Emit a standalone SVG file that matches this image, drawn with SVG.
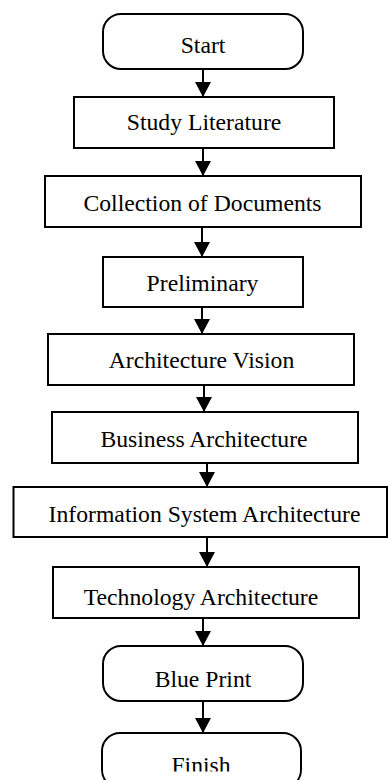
<svg xmlns="http://www.w3.org/2000/svg" width="388" height="780" viewBox="0 0 388 780">
  <defs>
    <marker id="arrow" markerUnits="userSpaceOnUse" markerWidth="16" markerHeight="17" refX="15" refY="8" orient="auto">
      <path d="M0,0 L15,8 L0,16 Z" fill="#000"/>
    </marker>
    <clipPath id="finishClip">
      <rect x="0" y="700" width="388" height="71.5"/>
    </clipPath>
    <style>
      .box { fill: #fff; stroke: #000; stroke-width: 2; }
      .lbl { font-family: 'Liberation Serif', 'DejaVu Serif', serif; font-size: 23.7px; fill: #000; text-anchor: middle; }
      .conn { stroke: #000; stroke-width: 2; fill: none; marker-end: url(#arrow); }
    </style>
  </defs>
  <rect width="388" height="780" fill="#fff"/>
  <g id="connectors">
    <line class="conn" x1="203" y1="69" x2="203" y2="97"/>
    <line class="conn" x1="203" y1="148" x2="203" y2="176"/>
    <line class="conn" x1="202" y1="227" x2="202" y2="257"/>
    <line class="conn" x1="202" y1="307" x2="202" y2="334"/>
    <line class="conn" x1="204" y1="385" x2="204" y2="412"/>
    <line class="conn" x1="207" y1="463" x2="207" y2="487"/>
    <line class="conn" x1="207" y1="537" x2="207" y2="567"/>
    <line class="conn" x1="203" y1="618" x2="203" y2="646"/>
    <line class="conn" x1="203" y1="701" x2="203" y2="733"/>
  </g>
  <g id="start">
    <rect class="box" x="103" y="14" width="200" height="55" rx="18" ry="18"/>
    <text class="lbl" font-family="Liberation Serif, serif" x="203" y="53">Start</text>
  </g>
  <g id="study-literature">
    <rect class="box" x="74" y="97" width="260" height="51"/>
    <text class="lbl" font-family="Liberation Serif, serif" x="204" y="130">Study Literature</text>
  </g>
  <g id="collection-of-documents">
    <rect class="box" x="45" y="176" width="316" height="51"/>
    <text class="lbl" font-family="Liberation Serif, serif" x="202.5" y="211">Collection of Documents</text>
  </g>
  <g id="preliminary">
    <rect class="box" x="103" y="257" width="200" height="50"/>
    <text class="lbl" font-family="Liberation Serif, serif" x="202.5" y="291">Preliminary</text>
  </g>
  <g id="architecture-vision">
    <rect class="box" x="48" y="334" width="306" height="51"/>
    <text class="lbl" font-family="Liberation Serif, serif" x="201.5" y="368">Architecture Vision</text>
  </g>
  <g id="business-architecture">
    <rect class="box" x="52" y="412" width="306" height="51"/>
    <text class="lbl" font-family="Liberation Serif, serif" x="204" y="447">Business Architecture</text>
  </g>
  <g id="information-system-architecture">
    <rect class="box" x="13.5" y="487" width="373.5" height="50"/>
    <text class="lbl" font-family="Liberation Serif, serif" x="204.5" y="522">Information System Architecture</text>
  </g>
  <g id="technology-architecture">
    <rect class="box" x="53" y="567" width="306" height="51"/>
    <text class="lbl" font-family="Liberation Serif, serif" x="201" y="605">Technology Architecture</text>
  </g>
  <g id="blue-print">
    <rect class="box" x="103" y="646" width="200" height="55" rx="18" ry="18"/>
    <text class="lbl" font-family="Liberation Serif, serif" x="203" y="687">Blue Print</text>
  </g>
  <g id="finish">
    <rect class="box" x="102" y="733" width="199" height="55" rx="18" ry="18"/>
    <text class="lbl" font-family="Liberation Serif, serif" x="201" y="773" clip-path="url(#finishClip)">Finish</text>
  </g>
</svg>
